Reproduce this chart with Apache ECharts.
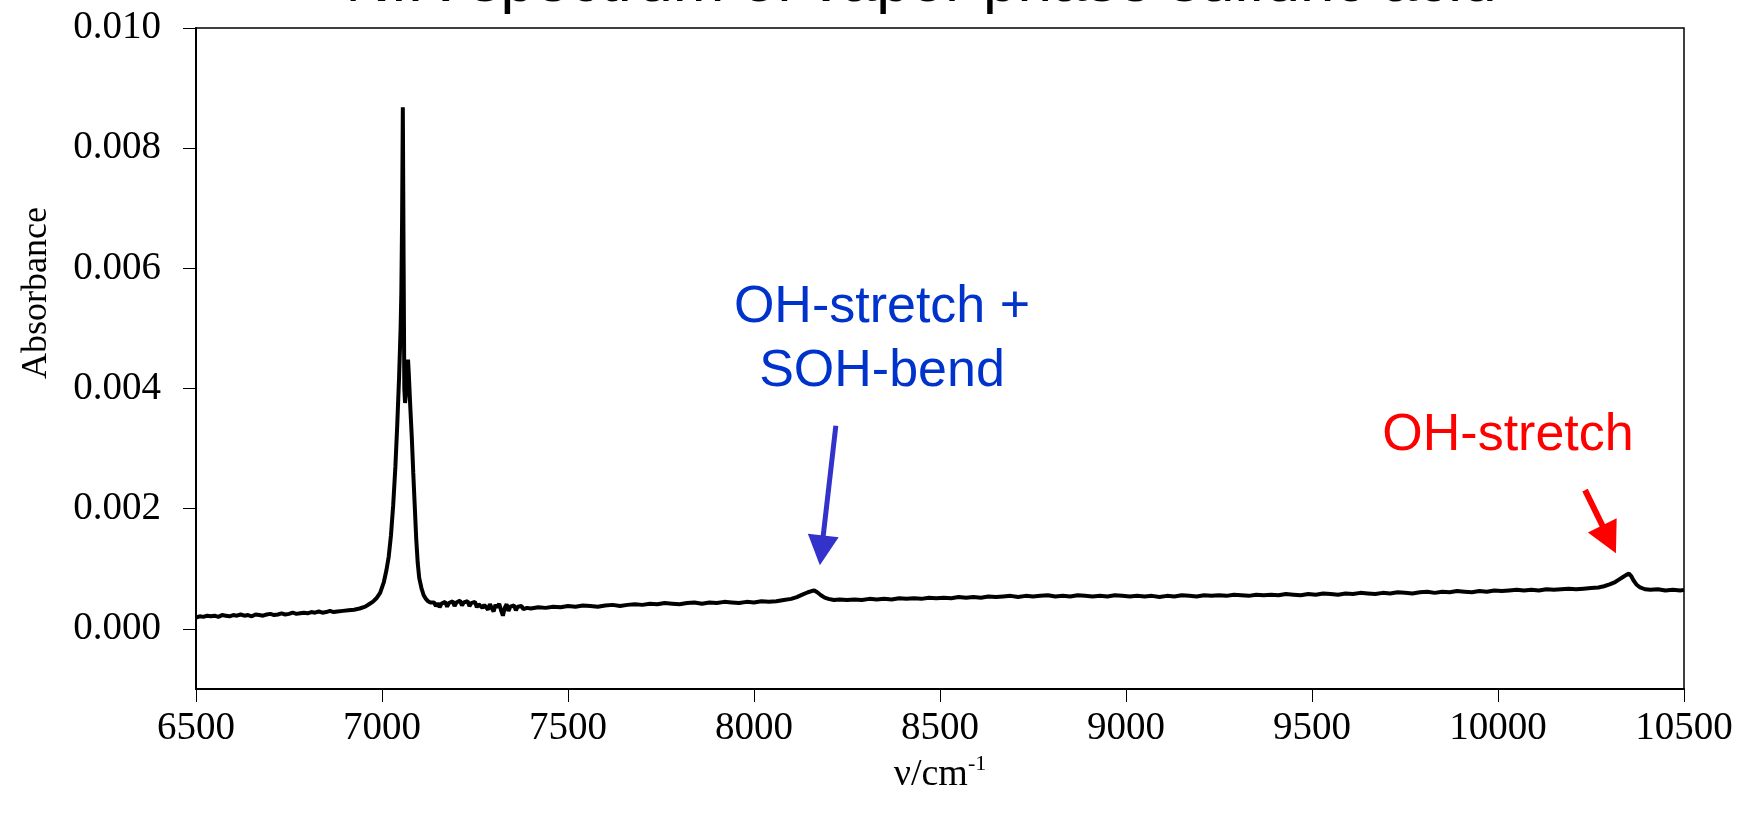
<!DOCTYPE html>
<html>
<head>
<meta charset="utf-8">
<script src="https://cdn.jsdelivr.net/npm/echarts@6/dist/echarts.min.js"></script>
<style>
html,body{margin:0;padding:0;background:#fff;}
#chart{width:1747px;height:819px;}
</style>
</head>
<body>
<div id="chart"></div>
<script>
// ---- data ----
const wavenumbers = [
6500,6510,6520,6530,6540,6550,6560,6570,6580,6590,6600,6610,6620,6630,6640,6650,6660,6670,6680,6690,
6700,6710,6720,6730,6740,6750,6760,6770,6780,6790,6800,6810,6820,6830,6840,6850,6860,6870,6880,
6895,6910,6925,6940,6955,6965,6975,6985,6995,7005,7012,7018,7024,7030,7036,7041,7046,7050,7052,7054,7056,
7058,7060,7062,7065,7068,7070,7072,7076,7080,7084,7088,7092,7096,7100,7106,7112,7118,7124,7130,
7135,7140,7145,7150,7155,7160,7165,7170,7175,7180,7185,7190,7195,7200,7205,7210,7215,7220,7225,7230,
7235,7240,7245,7250,7255,7260,7265,7270,7275,7280,7285,7290,7295,7300,7305,7310,7315,7320,7325,7330,
7335,7340,7345,7350,7355,7360,7365,7370,7375,7380,7385,7390,7395,7400,
7420,7440,7460,7480,7500,7520,7540,7560,7580,7600,7620,7640,7660,7680,7700,7720,7740,7760,7780,7800,
7820,7840,7860,7880,7900,7920,7940,7960,7980,8000,8020,8040,8060,8080,8100,
8115,8130,8145,8155,8162,8170,8180,8190,8200,8215,8230,8250,
8270,8290,8310,8330,8350,8370,8390,8410,8430,8450,8470,8490,8510,8530,8550,8570,8590,8610,8630,8650,
8670,8690,8710,8730,8750,8770,8790,8810,8830,8850,8870,8890,8910,8930,8950,8970,8990,9010,9030,9050,
9070,9090,9110,9130,9150,9170,9190,9210,9230,9250,9270,9290,9310,9330,9350,9370,9390,9410,9430,9450,
9470,9490,9510,9530,9550,9570,9590,9610,9630,9650,9670,9690,9710,9730,9750,9770,9790,9810,9830,9850,
9870,9890,9910,9930,9950,9970,9990,10010,10030,10050,10070,10090,10110,10130,10150,10170,10190,10210,10230,10250,
10270,10285,10300,10315,10325,10335,10345,10352,10358,10364,10372,10382,10395,10410,10430,10450,10470,10490,10500
];
const absorbance = [
0.00019,0.00021,0.00020,0.00022,0.00021,0.00022,0.00020,0.00023,0.00022,0.00021,0.00023,0.00022,0.00024,0.00022,0.00023,0.00021,0.00024,0.00023,0.00022,0.00024,
0.00025,0.00023,0.00024,0.00026,0.00024,0.00025,0.00027,0.00025,0.00026,0.00027,0.00026,0.00028,0.00027,0.00029,0.00027,0.00028,0.00030,0.00028,0.00029,
0.00030,0.00031,0.00032,0.00034,0.00037,0.00041,0.00045,0.00051,0.00060,0.00078,0.00098,0.00120,0.00155,0.00205,0.00270,0.00340,0.00420,0.00500,0.00560,0.00680,0.00868,
0.00620,0.00400,0.00376,0.00395,0.00440,0.00448,0.00425,0.00370,0.00320,0.00260,0.00205,0.00150,0.00110,0.00085,0.00068,0.00056,0.00050,0.00046,0.00044,
0.00041,0.00044,0.00038,0.00043,0.00036,0.00042,0.00039,0.00045,0.00037,0.00043,0.00040,0.00046,0.00038,0.00044,0.00041,0.00047,0.00039,0.00044,0.00042,0.00046,
0.00038,0.00043,0.00040,0.00045,0.00036,0.00041,0.00044,0.00035,0.00040,0.00043,0.00032,0.00041,0.00038,0.00029,0.00040,0.00036,0.00042,0.00031,0.00022,0.00035,
0.00041,0.00030,0.00037,0.00034,0.00039,0.00031,0.00037,0.00035,0.00038,0.00033,0.00036,0.00035,0.00037,0.00034,
0.00036,0.00035,0.00037,0.00036,0.00038,0.00037,0.00039,0.00038,0.00037,0.00039,0.00040,0.00038,0.00040,0.00041,0.00040,0.00042,0.00041,0.00043,0.00042,0.00041,
0.00043,0.00044,0.00042,0.00044,0.00043,0.00045,0.00044,0.00043,0.00045,0.00044,0.00046,0.00045,0.00046,0.00048,0.00050,
0.00053,0.00057,0.00061,0.00063,0.00064,0.00061,0.00056,0.00052,0.00050,0.00048,0.00049,0.00048,
0.00049,0.00048,0.00050,0.00049,0.00050,0.00049,0.00051,0.00050,0.00051,0.00050,0.00052,0.00051,0.00052,0.00051,0.00053,0.00052,0.00053,0.00052,0.00054,0.00053,
0.00054,0.00055,0.00053,0.00055,0.00054,0.00055,0.00056,0.00054,0.00055,0.00054,0.00056,0.00055,0.00054,0.00055,0.00054,0.00056,0.00055,0.00054,0.00055,0.00054,
0.00055,0.00053,0.00055,0.00054,0.00056,0.00055,0.00054,0.00056,0.00055,0.00056,0.00055,0.00057,0.00056,0.00055,0.00057,0.00056,0.00057,0.00056,0.00058,0.00057,
0.00056,0.00058,0.00057,0.00059,0.00058,0.00057,0.00059,0.00058,0.00060,0.00059,0.00058,0.00060,0.00059,0.00061,0.00060,0.00059,0.00061,0.00062,0.00060,0.00062,
0.00061,0.00063,0.00062,0.00061,0.00063,0.00062,0.00064,0.00063,0.00064,0.00065,0.00064,0.00065,0.00064,0.00066,0.00065,0.00066,0.00067,0.00066,0.00067,0.00068,
0.00069,0.00071,0.00074,0.00078,0.00082,0.00086,0.00090,0.00092,0.00088,0.00081,0.00074,0.00069,0.00066,0.00065,0.00066,0.00064,0.00065,0.00064,0.00065
];
const xTickValues = [6500,7000,7500,8000,8500,9000,9500,10000,10500];
const yTickValues = [0.000,0.002,0.004,0.006,0.008,0.010];
const titleText = 'NIR spectrum of vapor phase sulfuric acid';
const xName = 'ν/cm';
const xNameSup = '-1';
const yName = 'Absorbance';
const annotations = [
  {text:'OH-stretch +\nSOH-bend', color:'#0033CC', at:[8344, 0.00481]},
  {text:'OH-stretch', color:'#FF0000', at:[10027, 0.00321]}
];
const arrows = [
  {from:[8220, 0.00338], to:[8177, 0.00106], color:'#3333CC', width:5, headW:31, headL:30},
  {from:[10234, 0.00231], to:[10317, 0.00126], color:'#FF0000', width:6, headW:32, headL:31}
];

const serif = '"Liberation Serif","Times New Roman",serif';
const sans = '"Liberation Sans",Arial,sans-serif';

const chart = echarts.init(document.getElementById('chart'), null, {renderer:'canvas'});
const seriesData = wavenumbers.map((w,i)=>[w, absorbance[i]]);

chart.setOption({
  animation:false,
  backgroundColor:'#fff',
  grid:{left:196, right:63, top:28, bottom:130, show:true, borderColor:'#000', borderWidth:1.5, backgroundColor:'transparent'},
  xAxis:{
    type:'value', min:6500, max:10500, interval:500,
    name:'{n|'+xName+'}{s|'+xNameSup+'}', nameLocation:'middle', nameGap:60,
    nameTextStyle:{rich:{n:{fontFamily:serif, fontSize:38, color:'#000', lineHeight:44}, s:{fontFamily:serif, fontSize:22, color:'#000', verticalAlign:'top', lineHeight:22}}},
    axisLine:{show:true, onZero:false, lineStyle:{color:'#000', width:2}},
    axisTick:{show:true, inside:false, length:13, lineStyle:{color:'#000', width:1}, customValues:xTickValues},
    axisLabel:{fontFamily:serif, fontSize:39, color:'#000', margin:20, customValues:xTickValues,
      formatter:(v)=>String(v)},
    splitLine:{show:false}
  },
  yAxis:{
    type:'value', min:-0.001, max:0.010,
    axisLine:{show:true, onZero:false, lineStyle:{color:'#000', width:2}},
    axisTick:{show:true, inside:false, length:13, lineStyle:{color:'#000', width:1}, customValues:yTickValues},
    axisLabel:{fontFamily:serif, fontSize:39, color:'#000', margin:35, customValues:yTickValues,
      formatter:(v)=>v.toFixed(3)},
    splitLine:{show:false}
  },
  series:[{
    type:'line', data:seriesData, showSymbol:false, symbol:'none',
    lineStyle:{color:'#000', width:4}, itemStyle:{color:'#000'}, silent:true, z:3
  }]
});

function px(p){ return chart.convertToPixel({gridIndex:0}, p); }
const graphics = [];
graphics.push({type:'text', z:10, style:{text:titleText, x:921, y:-16, font:'62px '+sans, fill:'#000',
  textAlign:'center', align:'center', textVerticalAlign:'middle', verticalAlign:'middle'}});
graphics.push({type:'text', z:10, x:37, y:293, rotation:Math.PI/2, style:{text:yName, x:0, y:0, font:'36px '+serif, fill:'#000',
  textAlign:'center', align:'center', textVerticalAlign:'middle', verticalAlign:'middle'}});
annotations.forEach(a=>{
  const p = px(a.at);
  graphics.push({type:'text', z:10, style:{text:a.text, x:p[0], y:p[1], font:'52px '+sans, fill:a.color,
    lineHeight:63.5, textAlign:'center', align:'center', textVerticalAlign:'middle', verticalAlign:'middle'}});
});
arrows.forEach(a=>{
  const p0 = px(a.from), p1 = px(a.to);
  const dx = p1[0]-p0[0], dy = p1[1]-p0[1];
  const len = Math.sqrt(dx*dx+dy*dy);
  const ux = dx/len, uy = dy/len;
  const bx = p1[0]-ux*a.headL, by = p1[1]-uy*a.headL;
  const nx = -uy, ny = ux;
  graphics.push({type:'line', z:10, shape:{x1:p0[0], y1:p0[1], x2:bx+ux*3, y2:by+uy*3},
    style:{stroke:a.color, lineWidth:a.width}});
  graphics.push({type:'polygon', z:10, shape:{points:[[p1[0],p1[1]],[bx+nx*a.headW/2, by+ny*a.headW/2],[bx-nx*a.headW/2, by-ny*a.headW/2]]},
    style:{fill:a.color}});
});
chart.setOption({graphic:graphics});
</script>
</body>
</html>
